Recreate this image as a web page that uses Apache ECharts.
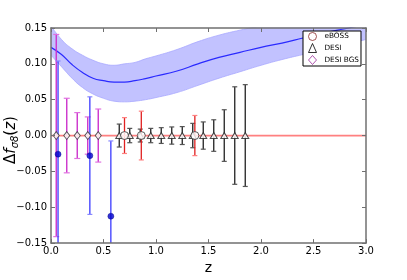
<!DOCTYPE html>
<html><head><meta charset="utf-8">
<script src="https://cdn.jsdelivr.net/npm/echarts@6/dist/echarts.min.js"></script>
<style>html,body{margin:0;padding:0;background:#fff}#c{width:407px;height:280px}</style>
</head><body><div id="c"></div>
<script>
// axis ticks
const xTickValues = [0, 0.5, 1.0, 1.5, 2.0, 2.5, 3.0];
const xTickLabels = ['0.0', '0.5', '1.0', '1.5', '2.0', '2.5', '3.0'];
const yTickValues = [-0.15, -0.10, -0.05, 0.00, 0.05, 0.10, 0.15];
const yTickLabels = ['\u22120.15', '\u22120.10', '\u22120.05', '0.00', '0.05', '0.10', '0.15'];

// theory curve and band
const curveZ    = [0, 0.1, 0.2, 0.3, 0.4, 0.5, 0.6, 0.7, 0.8, 0.9, 1.0, 1.2, 1.4, 1.6, 1.8, 2.0, 2.2, 2.4, 2.6, 2.8, 3.0];
const curveMid  = [0.123, 0.113, 0.099, 0.088, 0.080, 0.0765, 0.0745, 0.0745, 0.0765, 0.0795, 0.083, 0.090, 0.100, 0.109, 0.116, 0.123, 0.129, 0.136, 0.143, 0.149, 0.155];
const bandHigh  = [0.153, 0.134, 0.121, 0.112, 0.105, 0.100, 0.098, 0.100, 0.102, 0.107, 0.111, 0.120, 0.131, 0.140, 0.147, 0.153, 0.158, 0.163, 0.168, 0.173, 0.178];
const bandLow   = [0.112, 0.096, 0.080, 0.067, 0.058, 0.052, 0.048, 0.047, 0.048, 0.050, 0.053, 0.060, 0.070, 0.080, 0.089, 0.098, 0.106, 0.113, 0.120, 0.127, 0.134];

// DESI BGS
const bgsZ   = [0.05, 0.15, 0.25, 0.35, 0.45];
const bgsVal = [0, 0, 0, 0, 0];
const bgsErr = [0.141, 0.052, 0.032, 0.026, 0.037];

// current measurements (blue filled)
const curZ   = [0.067, 0.37, 0.57];
const curVal = [-0.026, -0.028, -0.1125];
const curErr = [0.130, 0.082, 0.105];

// eBOSS
const ebossZ   = [0.70, 0.86, 1.37];
const ebossVal = [0, 0, 0];
const ebossErr = [0.025, 0.034, 0.028];

// DESI
const desiZ   = [0.65, 0.75, 0.85, 0.95, 1.05, 1.15, 1.25, 1.35, 1.45, 1.55, 1.65, 1.75, 1.85];
const desiVal = [0, 0, 0, 0, 0, 0, 0, 0, 0, 0, 0, 0, 0];
const desiErr = [0.016, 0.010, 0.009, 0.010, 0.011, 0.012, 0.0125, 0.017, 0.019, 0.022, 0.036, 0.068, 0.071];

const X_MIN = 0, X_MAX = 3, Y_MIN = -0.15, Y_MAX = 0.15;

function zip(a, b, c) { return a.map((v, i) => c ? [v, b[i], c[i]] : [v, b[i]]); }

function errRender(capHalf, lineColor, capColor, lw) {
  return function (params, api) {
    const x = api.value(0), y = api.value(1), e = api.value(2);
    const hiV = y + e, loV = y - e;
    const hi = Math.min(hiV, Y_MAX), lo = Math.max(loV, Y_MIN);
    const pT = api.coord([x, hi]), pB = api.coord([x, lo]);
    const ch = [{ type: 'line', shape: { x1: pT[0], y1: pT[1], x2: pB[0], y2: pB[1] }, style: { stroke: lineColor, lineWidth: lw } }];
    if (hiV <= Y_MAX) ch.push({ type: 'line', shape: { x1: pT[0] - capHalf, y1: pT[1], x2: pT[0] + capHalf, y2: pT[1] }, style: { stroke: capColor, lineWidth: 1.2 } });
    if (loV >= Y_MIN) ch.push({ type: 'line', shape: { x1: pB[0] - capHalf, y1: pB[1], x2: pB[0] + capHalf, y2: pB[1] }, style: { stroke: capColor, lineWidth: 1.2 } });
    return { type: 'group', children: ch };
  };
}

const frame = { color: '#707070', width: 1.5 };
const tick = { show: true, inside: true, length: 4, lineStyle: { color: '#707070', width: 1 } };
const font = 'DejaVu Sans';

function xFmt(v) { const i = xTickValues.findIndex(t => Math.abs(t - v) < 1e-6); return i >= 0 ? xTickLabels[i] : ''; }
function yFmt(v) { const i = yTickValues.findIndex(t => Math.abs(t - v) < 1e-6); return i >= 0 ? yTickLabels[i] : ''; }

const chart = echarts.init(document.getElementById('c'), null, { renderer: 'canvas' });
chart.setOption({
  animation: false,
  backgroundColor: '#fff',
  grid: { left: 51, right: 41, top: 28, bottom: 28 },
  xAxis: [
    { type: 'value', min: X_MIN, max: X_MAX, interval: 0.5, position: 'bottom', z: 10,
      axisLine: { show: true, onZero: false, lineStyle: frame }, axisTick: tick, splitLine: { show: false },
      axisLabel: { color: '#000', fontSize: 10, fontFamily: font, margin: 3, formatter: xFmt },
      name: 'z', nameLocation: 'middle', nameGap: 12, nameTextStyle: { fontSize: 14, fontFamily: font, color: '#000' } },
    { type: 'value', min: X_MIN, max: X_MAX, interval: 0.5, position: 'top', z: 10,
      axisLine: { show: true, onZero: false, lineStyle: frame }, axisTick: tick, splitLine: { show: false }, axisLabel: { show: false } }
  ],
  yAxis: [
    { type: 'value', min: Y_MIN, max: Y_MAX, interval: 0.05, position: 'left', z: 10,
      axisLine: { show: true, onZero: false, lineStyle: frame }, axisTick: tick, splitLine: { show: false },
      axisLabel: { color: '#000', fontSize: 10, fontFamily: font, margin: 4, formatter: yFmt } },
    { type: 'value', min: Y_MIN, max: Y_MAX, interval: 0.05, position: 'right', z: 10,
      axisLine: { show: true, onZero: false, lineStyle: frame }, axisTick: tick, splitLine: { show: false }, axisLabel: { show: false } }
  ],
  legend: {
    orient: 'vertical', left: 303, top: 31, padding: [1, 2, 1, 5], itemGap: 2, itemWidth: 8, itemHeight: 9,
    borderColor: '#000', borderWidth: 1, borderRadius: 0, backgroundColor: '#fff', z: 20,
    textStyle: { fontSize: 7.3, fontFamily: font, color: '#000', padding: [0, 0, 0, 3] },
    data: [
      { name: 'eBOSS', icon: 'circle', itemStyle: { color: '#fff', borderColor: '#8b2a2a', borderWidth: 1 } },
      { name: 'DESI', icon: 'triangle', itemStyle: { color: '#fff', borderColor: '#000', borderWidth: 1 } },
      { name: 'DESI BGS', icon: 'diamond', itemStyle: { color: '#fff', borderColor: '#9a2a9a', borderWidth: 1 } }
    ]
  },
  graphic: [{
    type: 'text', x: 11, y: 140, rotation: Math.PI / 2,
    style: {
      text: '{n|\u0394}{i|f}{s|\u03c38}{n|(}{i|z}{n|)}',
      align: 'center', verticalAlign: 'middle', fill: '#000',
      rich: {
        n: { fontSize: 15, fontFamily: font, fill: '#000' },
        i: { fontSize: 15, fontFamily: font, fontStyle: 'italic', fill: '#000' },
        s: { fontSize: 10, fontFamily: font, fontStyle: 'italic', fill: '#000', padding: [9, 0, 0, 0] }
      }
    }
  }],
  series: [
    // band: upper edge filled down to the axis bottom, then lower edge filled with white
    { type: 'line', name: 'bandHigh', data: zip(curveZ, bandHigh), smooth: true, symbol: 'none', silent: true, z: -3,
      lineStyle: { color: '#a8a8ff', width: 0.8 }, areaStyle: { color: '#c2c2ff', opacity: 1, origin: 'start' } },
    { type: 'line', name: 'bandLow', data: zip(curveZ, bandLow), smooth: true, symbol: 'none', silent: true, z: -2,
      lineStyle: { color: '#a8a8ff', width: 0.8 }, areaStyle: { color: '#ffffff', opacity: 1, origin: 'start' } },
    { type: 'line', name: 'theory', data: zip(curveZ, curveMid), smooth: true, symbol: 'none', silent: true, z: 2,
      lineStyle: { color: '#2a2aff', width: 1.2 } },
    { type: 'custom', name: 'bgsErr', data: zip(bgsZ, bgsVal, bgsErr), renderItem: errRender(3, '#cc33cc', '#e070e0', 1.4), silent: true, z: 3, clip: true },
    { type: 'custom', name: 'curErr', data: zip(curZ, curVal, curErr), renderItem: errRender(2.5, '#3a3aff', '#8888ff', 1.3), silent: true, z: 3, clip: true },
    { type: 'custom', name: 'desiErr', data: zip(desiZ, desiVal, desiErr), renderItem: errRender(2.5, '#222', '#555', 1.3), silent: true, z: 3, clip: true },
    { type: 'custom', name: 'ebossErr', data: zip(ebossZ, ebossVal, ebossErr), renderItem: errRender(2.5, '#e02020', '#ff8080', 1.3), silent: true, z: 3, clip: true },
    { type: 'line', name: 'zero', data: [[X_MIN, 0], [X_MAX, 0]], symbol: 'none', silent: true, z: 4,
      lineStyle: { color: '#ff8080', width: 1.8 } },
    { type: 'scatter', name: 'DESI BGS', data: zip(bgsZ, bgsVal), symbol: 'diamond', symbolSize: [6, 8], silent: true, z: 5,
      itemStyle: { color: '#fff', borderColor: '#333', borderWidth: 1 } },
    { type: 'scatter', name: 'curPts', data: zip(curZ, curVal), symbol: 'circle', symbolSize: 6, silent: true, z: 5,
      itemStyle: { color: '#0000cc', borderColor: '#000080', borderWidth: 0.5 } },
    { type: 'scatter', name: 'DESI', data: zip(desiZ, desiVal), symbol: 'triangle', symbolSize: [7, 6], silent: true, z: 5,
      itemStyle: { color: '#fff', borderColor: '#222', borderWidth: 1 } },
    { type: 'scatter', name: 'eBOSS', data: zip(ebossZ, ebossVal), symbol: 'circle', symbolSize: 8, silent: true, z: 6,
      itemStyle: { color: '#fff', borderColor: '#333', borderWidth: 1 } }
  ]
});
</script></body></html>
